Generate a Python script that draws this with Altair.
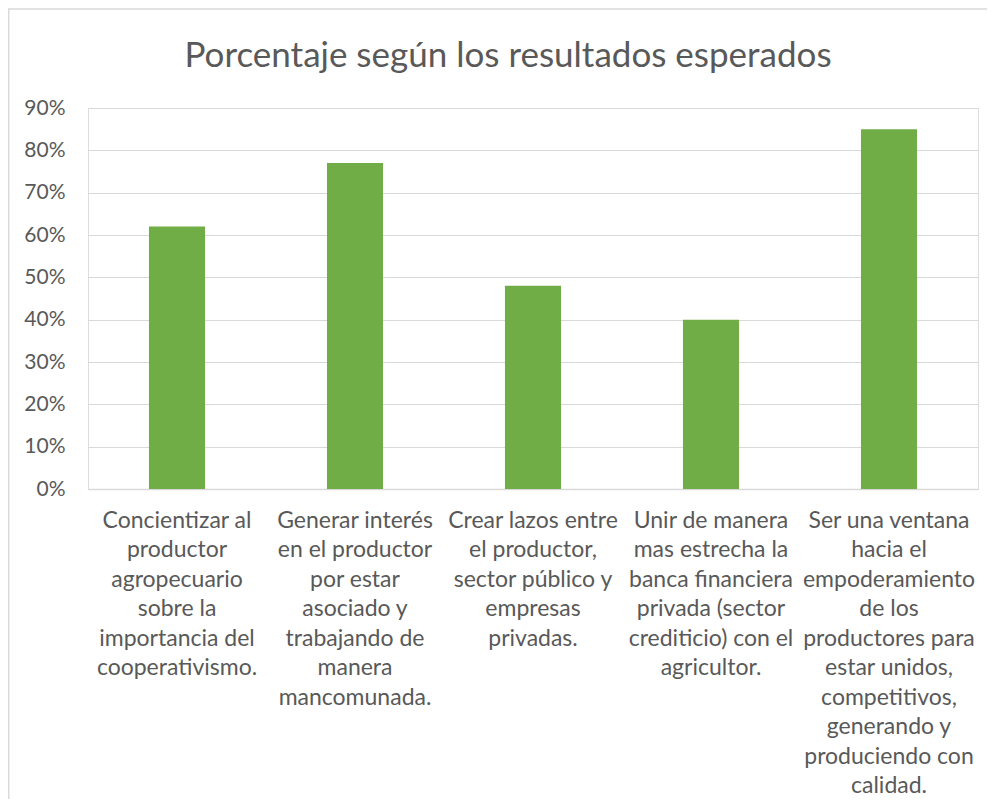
import altair as alt
import pandas as pd

categories = [
    "Concientizar al|productor|agropecuario|sobre la|importancia del|cooperativismo.",
    "Generar interés|en el productor|por estar|asociado y|trabajando de|manera|mancomunada.",
    "Crear lazos entre|el productor,|sector público y|empresas|privadas.",
    "Unir de manera|mas estrecha la|banca financiera|privada (sector|crediticio) con el|agricultor.",
    "Ser una ventana|hacia el|empoderamiento|de los|productores para|estar unidos,|competitivos,|generando y|produciendo con|calidad.",
]
values = [0.62, 0.77, 0.48, 0.40, 0.85]
y_ticks = [0.0, 0.1, 0.2, 0.3, 0.4, 0.5, 0.6, 0.7, 0.8, 0.9]

df = pd.DataFrame({"cat": categories, "val": values})

FONT = "Lato"
GREY = "#595959"

bars = alt.Chart(df).mark_bar(color="#70AD47").encode(
    x=alt.X(
        "cat:N",
        sort=categories,
        title=None,
        scale=alt.Scale(paddingInner=0.685, paddingOuter=0.3425),
        axis=alt.Axis(
            labelExpr="split(datum.label, '|')",
            labelAngle=0,
            labelFont=FONT,
            labelFontSize=23,
            labelColor=GREY,
            labelLineHeight=29.5,
            labelLimit=0,
            labelPadding=20,
            labelBaseline="top",
            ticks=False,
            domainColor="#D9D9D9",
            domainWidth=1.5,
        ),
    ),
    y=alt.Y(
        "val:Q",
        title=None,
        scale=alt.Scale(domain=[0, 0.9], nice=False),
        axis=alt.Axis(
            values=y_ticks,
            format=".0%",
            labelFont=FONT,
            labelFontSize=21,
            labelColor=GREY,
            labelPadding=23,
            ticks=False,
            domain=False,
            gridColor="#D9D9D9",
            gridWidth=1.2,
        ),
    ),
)

frame_df = pd.DataFrame({"a": [0]})
top_rule = alt.Chart(frame_df).mark_rule(color="#D9D9D9", strokeWidth=1.5).encode(
    x=alt.value(-80), x2=alt.value(905), y=alt.value(-99)
)
left_rule = alt.Chart(frame_df).mark_rule(color="#D9D9D9", strokeWidth=1.5).encode(
    x=alt.value(-79.3), y=alt.value(-99), y2=alt.value(720)
)

chart = (
    alt.layer(top_rule, left_rule, bars)
    .properties(
        width=890,
        height=381,
        autosize=alt.AutoSizeParams(type="none"),
        padding={"left": 80, "top": 100, "right": 9, "bottom": 310},
        title=alt.TitleParams(
            "Porcentaje según los resultados esperados",
            font=FONT,
            fontSize=35,
            fontWeight="normal",
            color=GREY,
            anchor="middle",
            baseline="alphabetic",
            dx=-25,
            dy=94,
            offset=0,
        ),
    )
    .configure_view(stroke=None)
    .configure(background="white")
)

chart.save("out.html", embed_options={"renderer": "svg", "actions": False})
